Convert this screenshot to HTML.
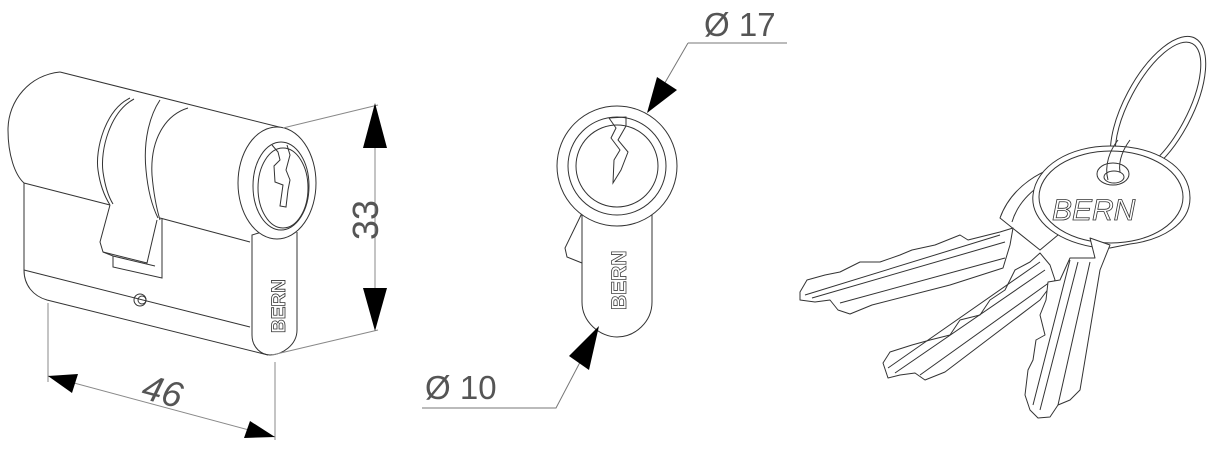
<!DOCTYPE html>
<html><head><meta charset="utf-8"><style>
html,body{margin:0;padding:0;background:#fff;width:1216px;height:455px;overflow:hidden}
svg{display:block}
text{font-family:"Liberation Sans","DejaVu Sans",sans-serif;fill:#555}
</style></head><body>
<svg width="1216" height="455" viewBox="0 0 1216 455" xmlns="http://www.w3.org/2000/svg">
<g fill="none" stroke="#333" stroke-width="1">
<!-- cylinder left -->
<path d="M60,72 L283,128"/>
<path d="M60,72 C30,75 8,100 8,130 C8,155 15,175 24,183"/>
<path d="M24,183 L110,205"/>
<path d="M160,218 L250,242"/>
<path d="M24,183 L24,270 C24,285 33,296 47,300 L268,355"/>
<path d="M24,270 L250,327"/>
<path d="M130,98 C105,110 95,150 98,170 C100,185 105,197 110,205"/>
<path d="M134,99 C110,112 100,150 103,172 C105,186 108,196 113,204"/>
<path d="M160,100 C150,115 143,140 146,170 C148,192 153,208 158,218"/>
<path d="M188,108 C165,115 150,140 152,175 C154,198 157,210 160,220"/>
<path d="M110,205 L100,242 L103,252 L147,263 L157,220"/>
<path d="M113,256 L113,267 L162,278 L162,218"/>
<path d="M103,252 L113,256 L155,266"/>
<circle cx="140" cy="300" r="6"/>
<circle cx="142" cy="300" r="4"/>
<!-- face -->
<path d="M262,232 L252,235 L252,335 C252,348 262,355 270,355 C282,355 297,345 297,330 L297,232"/>
<ellipse cx="277" cy="183" rx="39" ry="56" fill="#fff"/>
<ellipse cx="281" cy="186" rx="28" ry="44"/>
<ellipse cx="283" cy="188" rx="25" ry="40"/>
<path d="M272,145 L278,152 L280,160 L274,166 L275,182 L283,185 L280,206 L286,207 L288,190 L290,180 L286,170 L290,155 L287,145"/>
<text x="0" y="0" transform="translate(285,333) rotate(-90)" font-size="19" font-weight="bold" style="fill:none;stroke:#333;stroke-width:0.8">BERN</text>
<!-- dims -->
<g stroke="#888">
<path d="M283,128 L378,105"/>
<path d="M272,355 L378,330"/>
<path d="M375,107 L375,328"/>
<path d="M48,303 L48,382"/>
<path d="M275,362 L275,440"/>
<path d="M48,376 L275,437"/>
</g>
</g>
<g fill="#000">
<polygon points="375,103 363,148 387,148"/>
<polygon points="375,331 363,288 387,288"/>
<polygon points="48,376 78,374 72,393"/>
<polygon points="275,437 244,438 250,421"/>
</g>
<text x="0" y="0" transform="translate(378,240) rotate(-90)" font-size="36">33</text>
<text x="0" y="0" transform="translate(140,398) rotate(15)" font-size="36" font-style="italic">46</text>
<!-- middle face -->
<g fill="none" stroke="#333" stroke-width="1">
<path d="M582,213 L565,248 L567,257 L582,263"/>
<path d="M586,210 L582,215 L582,302 C582,322 600,337 617,337 C635,337 652,322 652,302 L652,215 L648,210"/>
<circle cx="617" cy="166" r="60" fill="#fff"/>
<circle cx="617" cy="166" r="49"/>
<circle cx="617" cy="166" r="41"/>
<path d="M609,118 L626,117 L626,126 L618,140 L628,152 L621,170 L613,183 L614,160 L620,150 L611,138 L616,128 Z"/>
<text x="0" y="0" transform="translate(626,310) rotate(-90)" font-size="21" font-weight="bold" style="fill:none;stroke:#444;stroke-width:0.8">BERN</text>
<g stroke="#777">
<path d="M688,43 L787,43 M688,43 L648,112"/>
<path d="M422,408 L556,408 L598,328"/>
</g>
</g>
<g fill="#000">
<polygon points="647,113 657,77 677,90"/>
<polygon points="599,326 589,370 569,356"/>
</g>
<text x="704" y="36" font-size="33">Ø 17</text>
<text x="425" y="399" font-size="33">Ø 10</text>
<!-- keys -->
<g fill="#fff" stroke="#333" stroke-width="1" stroke-linejoin="round">
<ellipse cx="1158" cy="108" rx="34" ry="79" transform="rotate(28 1158 108)" fill="none"/>
<ellipse cx="1158" cy="108" rx="29" ry="73" transform="rotate(28 1158 108)" fill="none"/>
<!-- back key bows -->
<path d="M1000,218 C1010,190 1040,165 1080,163 L1100,200 L1040,250 Z"/>
<path d="M1012,222 C1020,195 1050,172 1085,170"/>
<!-- blade 1 -->
<path d="M1013,228 L1000,232 L968,240 L960,235 L935,245 L912,250 L900,255 L880,262 L860,262 L840,272 L825,275 L807,280 L800,292 L800,300 L815,302 L830,300 L838,310 L850,314 L872,305 L950,285 L1003,268 L1010,245 Z"/>
<path d="M805,295 L1000,235 M812,298 L1005,242 M840,303 L1005,258"/>
<!-- blade 2 -->
<path d="M1040,253 L1030,262 L1015,270 L1005,290 L990,300 L980,315 L960,320 L950,335 L930,340 L912,345 L890,352 L883,363 L888,378 L900,375 L915,373 L925,380 L945,372 L1040,300 L1055,280 L1050,265 Z"/>
<path d="M888,368 L1040,262 M895,373 L1045,270 M920,375 L1050,282"/>
<!-- front key bow -->
<path d="M1100,248 C1060,243 1030,222 1033,195 C1036,166 1070,146 1110,146 C1155,146 1190,166 1190,198 C1190,224 1162,240 1130,244 L1110,248 Z"/>
<ellipse cx="1111" cy="197" rx="72" ry="46"/>
<!-- blade 3 -->
<path d="M1090,238 L1095,258 L1070,258 L1060,280 L1048,282 L1046,300 L1040,315 L1045,335 L1036,340 L1033,360 L1028,370 L1025,395 L1030,410 L1038,418 L1050,417 L1058,405 L1070,400 L1080,390 L1100,270 L1110,245 Z"/>
<path d="M1033,405 L1070,260 M1040,410 L1078,262 M1058,405 L1090,262"/>
<ellipse cx="1113" cy="174" rx="16" ry="11"/>
<ellipse cx="1114" cy="177" rx="10" ry="6"/>
</g>
<path d="M1108,180 C1104,165 1110,150 1118,140 M1120,172 C1118,160 1124,148 1130,140" fill="none" stroke="#333"/>
<text x="1052" y="220" font-size="30" font-style="italic" style="fill:#fff;stroke:#333;stroke-width:0.8">BERN</text>
</svg>
</body></html>
